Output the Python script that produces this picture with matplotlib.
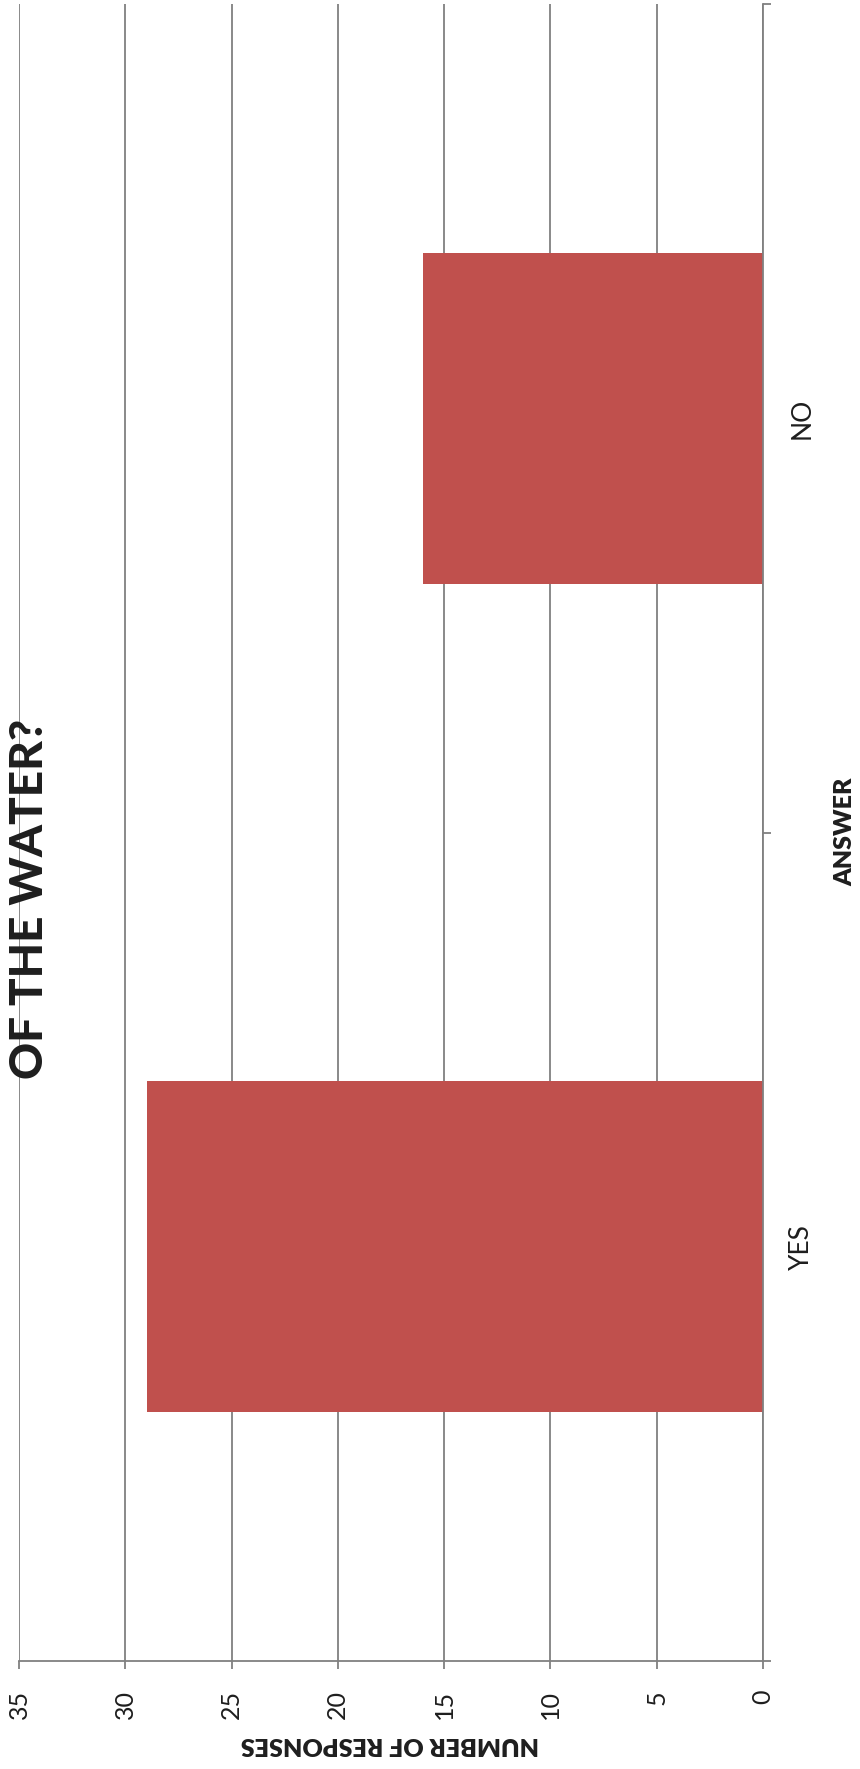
import matplotlib
matplotlib.use("Agg")
import matplotlib.pyplot as plt
from matplotlib.ticker import FixedLocator, NullFormatter

# survey answers
answers = ["YES", "NO"]
responses = [29, 16]
value_ticks = [0, 5, 10, 15, 20, 25, 30, 35]

title_text = "OF THE WATER?"
value_label = "NUMBER OF RESPONSES"
cat_label = "ANSWER"

bar_color = "#C0504D"
grid_color = "#808080"
text_color = "#1e1e1e"
font = "Lato"

W, H = 860, 1769
fig = plt.figure(figsize=(W / 100, H / 100), dpi=100)

# axes box in pixels: left 19, right 763, top 4, bottom 1661
ax = fig.add_axes([19 / W, 1 - 1661 / H, (763 - 19) / W, (1661 - 4) / H])

pos = list(range(len(answers)))
ax.barh(pos, responses, height=0.4, color=bar_color, zorder=2)

# value axis runs right-to-left, categories bottom-to-top
ax.set_xlim(35, 0)
ax.set_ylim(-0.5, len(answers) - 0.5)

ax.xaxis.set_major_locator(FixedLocator(value_ticks))
ax.set_xticklabels([str(v) for v in value_ticks], rotation=90, va="top",
                   fontsize=18, family=font, color=text_color)
ax.tick_params(axis="x", direction="out", length=5.8, width=1.3,
               color=grid_color, pad=15)

ax.yaxis.tick_right()
ax.yaxis.set_major_locator(FixedLocator([-0.5, 0.5, 1.5]))
ax.yaxis.set_major_formatter(NullFormatter())
ax.yaxis.set_minor_locator(FixedLocator(pos))
ax.set_yticklabels(answers, minor=True, rotation=90, va="center", ha="left",
                   fontsize=19, family=font, color=text_color)
ax.tick_params(axis="y", which="major", direction="out", length=5.8,
               width=1.3, color=grid_color)
ax.tick_params(axis="y", which="minor", length=0, pad=19)

ax.grid(axis="x", color=grid_color, linewidth=1.3, zorder=0)
ax.set_axisbelow(True)
for side in ["left", "top"]:
    ax.spines[side].set_visible(False)
for side in ["right", "bottom"]:
    ax.spines[side].set_color(grid_color)
    ax.spines[side].set_linewidth(1.3)

fig.text(30 / W, 1 - 899 / H, title_text, rotation=90, ha="center",
         va="center", fontsize=33, fontweight="black", family=font,
         color=text_color, zorder=5)
fig.text(845 / W, 1 - 832 / H, cat_label, rotation=90, ha="center",
         va="center", fontsize=18, fontweight="heavy", family=font,
         color=text_color)
fig.text(390 / W, 1 - 1744 / H, value_label, rotation=180, ha="center",
         va="center", fontsize=18, fontweight="heavy", family=font,
         color=text_color)

fig.savefig("out.png", dpi=100)
